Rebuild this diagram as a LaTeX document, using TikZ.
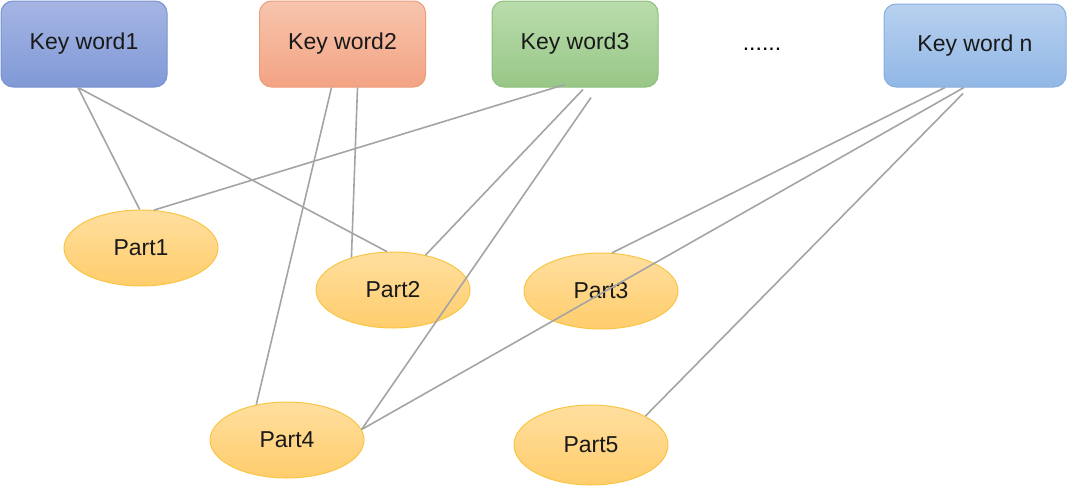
\documentclass[tikz,border=0pt]{standalone}
\usepackage{fontspec}
\setmainfont{Liberation Sans}
\usepackage{tikz}
\usetikzlibrary{shapes.geometric}
\pgfdeclarelayer{background}
\pgfdeclarelayer{foreground}
\pgfsetlayers{background,main,foreground}
\definecolor{kwoneT}{HTML}{A5B5E4}
\definecolor{kwoneB}{HTML}{8099D6}
\definecolor{kwoneD}{HTML}{7A93D0}
\definecolor{kwtwoT}{HTML}{F7C5AE}
\definecolor{kwtwoB}{HTML}{F3A383}
\definecolor{kwtwoD}{HTML}{EE9C78}
\definecolor{kwthrT}{HTML}{BADCAC}
\definecolor{kwthrB}{HTML}{97C787}
\definecolor{kwthrD}{HTML}{8DC07A}
\definecolor{kwnT}{HTML}{B8D1EF}
\definecolor{kwnB}{HTML}{91B7E6}
\definecolor{kwnD}{HTML}{86AFE0}
\definecolor{partT}{HTML}{FFDF9F}
\definecolor{partB}{HTML}{FFCD6C}
\definecolor{partD}{HTML}{F8C545}
\definecolor{wire}{HTML}{A4A4A4}

\begin{document}
\begin{tikzpicture}[x=1pt,y=-1pt,
  font=\fontsize{23}{26}\selectfont,
  keybox/.style={draw, line width=1pt, rounded corners=12pt, minimum width=166pt, minimum height=86pt, inner sep=0pt, text=black!90},
  partell/.style={ellipse, draw=partD, line width=1pt, top color=partT, bottom color=partB, minimum width=154pt, minimum height=76pt, inner sep=0pt, text=black!90},
  wireline/.style={draw=wire, line width=1.6pt}]
\useasboundingbox (0,0) rectangle (1069,493);
\node[keybox, draw=kwoneD, top color=kwoneT, bottom color=kwoneB] (kw1) at (84,44) {Key word1};
\node[keybox, draw=kwtwoD, top color=kwtwoT, bottom color=kwtwoB] (kw2) at (342.5,44) {Key word2};
\node[keybox, draw=kwthrD, top color=kwthrT, bottom color=kwthrB] (kw3) at (575,44) {Key word3};
\node (dots) at (762,49) {......};
\node[keybox, draw=kwnD, top color=kwnT, bottom color=kwnB, minimum width=182pt, minimum height=83pt] (kwn) at (975,45.5) {Key word n};
\node[partell] (p1) at (141,248) {Part1};
\node[partell] (p2) at (393,290) {Part2};
\node[partell] (p3) at (601,291) {Part3};
\node[partell] (p4) at (287,440) {Part4};
\node[partell, minimum height=80pt] (p5) at (591,445) {Part5};
\begin{pgfonlayer}{foreground}
\draw[wireline] ([xshift=-6pt]kw1.south) -- (p1.92);
\draw[wireline] ([xshift=-6pt]kw1.south) -- (p2.99);
\draw[wireline] ([xshift=-11pt]kw2.south) -- (p4.131);
\draw[wireline] ([xshift=15pt]kw2.south) -- (p2.142);
\draw[wireline] ([xshift=-10pt,yshift=3pt]kw3.south) -- (p1.71);
\draw[wireline] ([xshift=8pt,yshift=-2pt]kw3.south) -- (p2.47);
\draw[wireline] ([xshift=16pt,yshift=-10pt]kw3.south) -- (p4.8);
\draw[wireline] ([xshift=-30pt]kwn.south) -- (p3.74);
\draw[wireline] ([xshift=-11pt]kwn.south) -- (p4.8);
\draw[wireline] ([xshift=-12pt,yshift=-6pt]kwn.south) -- (p5.28);
\end{pgfonlayer}
\end{tikzpicture}
\end{document}
